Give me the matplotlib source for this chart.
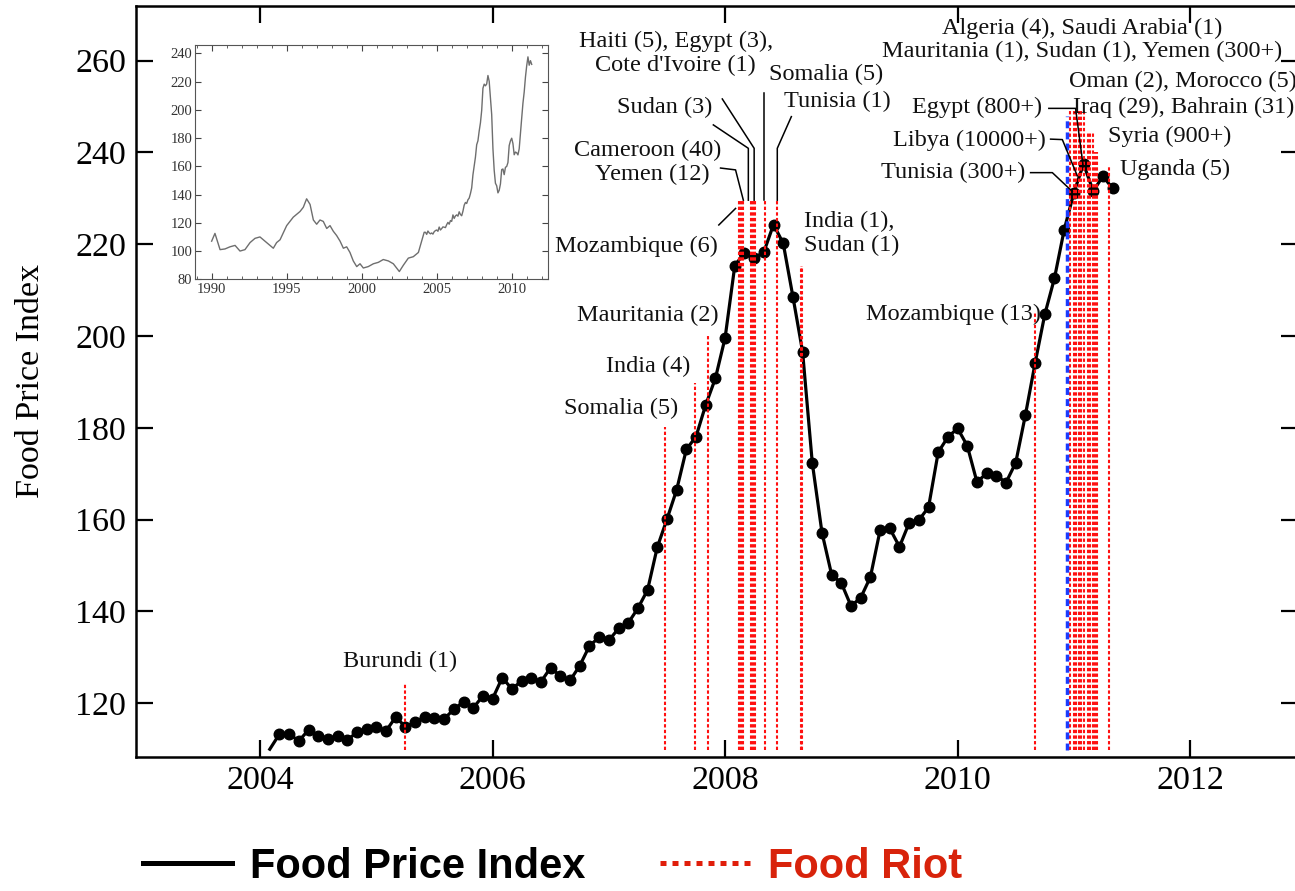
import matplotlib
matplotlib.use("Agg")
import matplotlib.pyplot as plt
from matplotlib.lines import Line2D
from matplotlib.font_manager import FontProperties
import pandas as pd

# ---------------- data ----------------
# FAO Food Price Index, monthly, Feb 2004 .. May 2011
fpi_months = pd.date_range("2004-02-01", "2011-05-01", freq="MS")
fpi_values = [110.0,
              113.3, 113.3, 111.8, 114.2, 112.9, 112.2, 112.8, 112.0, 113.7, 114.5, 114.9,   # Mar04-Jan05
              114.0, 117.0, 114.9, 115.9, 117.1, 116.9, 116.6, 118.7, 120.3, 119.0, 121.6, 121.0,  # Feb05-Jan06
              125.6, 123.1, 124.9, 125.6, 124.7, 127.8, 125.9, 125.0, 128.2, 132.5, 134.4, 133.7,  # Feb06-Jan07
              136.3, 137.5, 140.7, 144.7, 154.0, 160.1, 166.5, 175.3, 178.1, 185.0, 190.8, 199.6,  # Feb07-Jan08
              215.3, 218.2, 217.0, 218.3, 224.3, 220.2, 208.6, 196.6, 172.4, 157.2, 148.0, 146.2,  # Feb08-Jan09
              141.2, 143.0, 147.5, 157.7, 158.1, 154.1, 159.3, 159.9, 162.7, 174.7, 178.0, 179.9,  # Feb09-Jan10
              176.1, 168.2, 170.1, 169.6, 168.1, 172.4, 182.8, 194.1, 204.7, 212.6, 223.1, 231.2,  # Feb10-Jan11
              237.5, 231.6, 234.8, 232.2]                                                      # Feb11-May11

# long-run series for the inset (1990 .. early 2004)
inset_years = [1990.00, 1990.22, 1990.56, 1990.89, 1991.22, 1991.56, 1991.89, 1992.22, 1992.56,
               1992.89, 1993.22, 1993.44, 1993.67, 1993.89, 1994.11, 1994.33, 1994.56, 1994.78,
               1995.00, 1995.22, 1995.44, 1995.67, 1995.89, 1996.11, 1996.33, 1996.56, 1996.78,
               1997.00, 1997.22, 1997.44, 1997.67, 1997.89, 1998.11, 1998.33, 1998.56, 1998.78,
               1999.00, 1999.22, 1999.44, 1999.67, 1999.89, 2000.11, 2000.44, 2000.78, 2001.11,
               2001.44, 2001.78, 2002.11, 2002.33, 2002.51, 2002.78, 2003.11, 2003.44, 2003.78]
inset_values = [107, 112.5, 101, 101.5, 103, 104, 100, 101, 106,
                109, 110, 108, 106, 104, 102, 106, 108, 113,
                118, 121, 124, 126, 128, 131, 137, 133, 122,
                119, 122, 121, 116, 118, 114, 111, 107, 102,
                103, 99, 93, 89, 91, 88, 89, 91, 92,
                94, 93, 91, 88, 85.5, 90, 95, 96, 99]

# food riots (decimal year, height of the marker line)
riot_dates = [2005.249, 2007.480, 2007.740, 2007.852,
              2008.119, 2008.139, 2008.157, 2008.219, 2008.239, 2008.256, 2008.340, 2008.449,
              2008.650, 2008.664, 2010.665,
              2010.964, 2010.998, 2011.019, 2011.041, 2011.062, 2011.084,
              2011.118, 2011.140, 2011.161, 2011.178, 2011.200, 2011.299]
riot_tops = [124.5, 180.1, 189.8, 200.1,
             229.6, 229.6, 229.6, 229.6, 229.6, 229.6, 229.6, 229.6,
             215.3, 215.3, 205.0,
             249.3, 249.3, 249.3, 249.3, 249.3, 249.3,
             244.5, 244.5, 244.5, 240.0, 240.0, 237.1]
riot_base = 109.8
tunisia_2010_date = 2010.942
tunisia_2010_top = 248.0

# riot labels: text, x, y, horizontal alignment
labels = [
    ("Burundi (1)", 2005.204, 129.2, "center"),
    ("Somalia (5)", 2007.600, 184.3, "right"),
    ("India (4)", 2007.703, 193.3, "right"),
    ("Mauritania (2)", 2007.944, 204.4, "right"),
    ("Mozambique (6)", 2007.935, 219.6, "right"),
    ("Cameroon (40)", 2007.331, 240.5, "center"),
    ("Yemen (12)", 2007.376, 235.3, "center"),
    ("Sudan (3)", 2007.892, 249.9, "right"),
    ("Haiti (5), Egypt (3),", 2007.574, 264.1, "center"),
    ("Cote d'Ivoire (1)", 2007.574, 258.9, "center"),
    ("Somalia (5)", 2008.374, 256.9, "left"),
    ("Tunisia (1)", 2008.503, 251.0, "left"),
    ("India (1),", 2008.675, 224.9, "left"),
    ("Sudan (1)", 2008.675, 219.8, "left"),
    ("Mozambique (13)", 2010.714, 204.8, "right"),
    ("Tunisia (300+)", 2010.585, 235.6, "right"),
    ("Libya (10000+)", 2010.757, 242.6, "right"),
    ("Egypt (800+)", 2010.731, 249.9, "right"),
    ("Algeria (4), Saudi Arabia (1)", 2011.075, 267.1, "center"),
    ("Mauritania (1), Sudan (1), Yemen (300+)", 2011.071, 261.9, "center"),
    ("Oman (2), Morocco (5)", 2010.955, 255.4, "left"),
    ("Iraq (29), Bahrain (31)", 2010.989, 249.9, "left"),
    ("Syria (900+)", 2011.290, 243.4, "left"),
    ("Uganda (5)", 2011.400, 236.4, "left"),
]

# leader lines (x list, y list)
leaders = [
    ([2007.946, 2008.090], [224.2, 227.8]),
    ([2007.961, 2008.090, 2008.157], [236.6, 236.2, 229.6]),
    ([2007.899, 2008.200, 2008.200], [246.0, 240.9, 229.6]),
    ([2007.976, 2008.250, 2008.250], [251.65, 240.9, 229.6]),
    ([2008.334, 2008.334], [252.9, 229.6]),
    ([2008.570, 2008.449, 2008.449], [247.8, 240.9, 229.6]),
    ([2010.628, 2010.815, 2010.987], [235.6, 235.6, 231.5]),
    ([2010.800, 2010.901, 2011.030], [242.9, 242.8, 234.9]),
    ([2010.785, 2011.015, 2011.081], [249.6, 249.6, 236.9]),
]

# ---------------- figure ----------------
W, H = 1295, 891
fig = plt.figure(figsize=(W / 100, H / 100), dpi=100)
serif = "Liberation Serif"

fpi_x = [d.year + (d.month - 1) / 12 for d in fpi_months]

ax = fig.add_axes([135.7 / W, (H - 756.7) / H, 1162.5 / W, 750.7 / H])
ax.set_xlim(2002.93, 2012.93)
ax.set_ylim(108.37, 271.9)

ax.plot(fpi_x, fpi_values, color="black", lw=2.3, marker="o", markersize=7.6,
        markevery=list(range(1, len(fpi_values))), zorder=3)

for d, t in zip(riot_dates, riot_tops):
    ax.plot([d, d], [riot_base, t], color="#ff1010", lw=1.5,
            linestyle=(0, (1.6, 1.1)), zorder=4)
ax.plot([tunisia_2010_date] * 2, [riot_base, tunisia_2010_top], color="#1a3cff",
        lw=2.5, linestyle=(0, (2.0, 1.2)), zorder=4)

for xs, ys in leaders:
    ax.plot(xs, ys, color="black", lw=1.1, zorder=5, clip_on=False)

for s, x, y, ha in labels:
    ax.text(x, y, s, ha=ha, va="center", fontsize=17.5, family=serif,
            color="#111111", zorder=6)

ax.set_xticks([2004, 2006, 2008, 2010, 2012])
ax.set_yticks(range(120, 261, 20))
ax.tick_params(direction="in", length=12, width=1.6, top=True, right=True,
               labelsize=24.5, colors="black")
ax.tick_params(axis="x", pad=6)
ax.tick_params(axis="y", pad=7)
for lab in ax.get_xticklabels() + ax.get_yticklabels():
    lab.set_family(serif)
for sp in ax.spines.values():
    sp.set_linewidth(1.8)
ax.set_ylabel("Food Price Index", fontsize=24.5, family=serif)
ax.yaxis.set_label_coords(-0.077, 0.5)

# ---------------- inset ----------------
axi = fig.add_axes([195 / W, (H - 279.3) / H, 353 / W, 234.3 / H])
axi.plot(inset_years + fpi_x, inset_values + fpi_values, color="#6e6e6e", lw=1.0)
axi.set_xlim(1988.89, 2012.42)
axi.set_ylim(80, 245.9)
axi.set_xticks(range(1990, 2011, 5))
axi.set_xticks(range(1989, 2013), minor=True)
axi.set_yticks(range(80, 241, 20))
axi.tick_params(which="both", direction="in", top=True, right=True, colors="#444444",
                labelcolor="#333333", labelsize=10.5)
axi.tick_params(which="major", length=4, width=0.8)
axi.tick_params(which="minor", length=2.5, width=0.6)
axi.tick_params(axis="x", pad=2.5)
axi.tick_params(axis="y", pad=2)
for lab in axi.get_xticklabels() + axi.get_yticklabels():
    lab.set_family(serif)
for sp in axi.spines.values():
    sp.set_linewidth(0.8)
    sp.set_color("#555555")

# ---------------- legend ----------------
handles = [Line2D([], [], color="black", lw=3.6),
           Line2D([], [], color="#e01e0a", lw=3.6, linestyle=(0, (1.2, 1.2)))]
leg = fig.legend(handles, ["Food Price Index", "Food Riot"], loc="center left",
                 bbox_to_anchor=(143 / W, (H - 867) / H), ncol=2, frameon=False,
                 prop=FontProperties(family="Liberation Sans", weight="bold", size=30),
                 handlelength=2.14, handletextpad=0.43, columnspacing=1.8,
                 borderpad=0, borderaxespad=0)
leg.get_texts()[1].set_color("#d8230b")

fig.savefig("out.png", dpi=100)
